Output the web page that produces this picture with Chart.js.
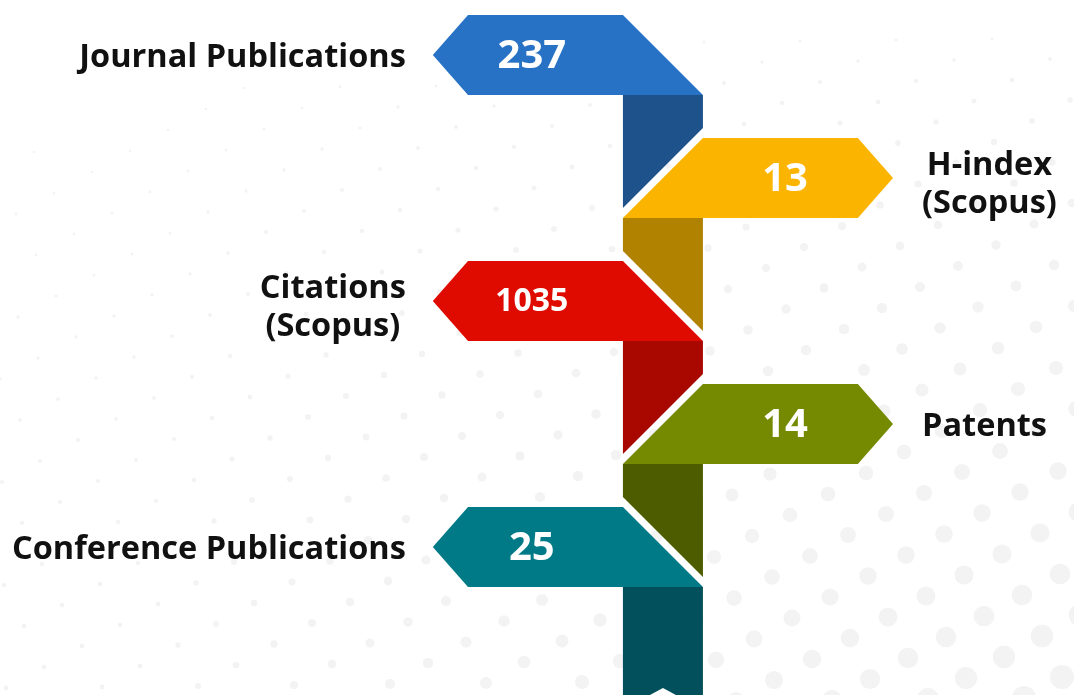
<!DOCTYPE html>
<html>
<head>
<meta charset="utf-8">
<title>Research Signpost</title>
<script src="https://cdn.jsdelivr.net/npm/chart.js@4.4.1/dist/chart.umd.min.js"></script>
<style>
    html, body { margin: 0; padding: 0; background: #ffffff; }
    #wrap { width: 1074px; height: 695px; position: relative; }
</style>
</head>
<body>
<div id="wrap"><canvas id="signChart"></canvas></div>
<script>
// Chart data
const categories = [
    ['Journal Publications'],
    ['H-index', '(Scopus)'],
    ['Citations', '(Scopus)'],
    ['Patents'],
    ['Conference Publications']
];
const values = [237, 13, 1035, 14, 25];
const directions = ['left', 'right', 'left', 'right', 'left'];

// Colours: sign boards and the darker pole piece under each one
const signColors = ['#2872c6', '#fbb400', '#e00b00', '#758a00', '#007a87'];
const poleColors = ['#1e528b', '#b08200', '#a80800', '#4e5c00', '#02505b'];

// Layout (x axis runs 0..100 across the page)
const POLE_LEFT = 58;
const POLE_RIGHT = 65.45;
const SIGN_LENGTH = 25.15;
const FONT = '"Open Sans", "DejaVu Sans", sans-serif';

// Each board is a floating bar hanging off one side of the pole
const boardRanges = directions.map(dir =>
    dir === 'left' ? [POLE_RIGHT - SIGN_LENGTH, POLE_RIGHT] : [POLE_LEFT, POLE_LEFT + SIGN_LENGTH]
);

function fillPoly(ctx, pts, color) {
    ctx.beginPath();
    ctx.moveTo(pts[0][0], pts[0][1]);
    for (let k = 1; k < pts.length; k++) ctx.lineTo(pts[k][0], pts[k][1]);
    ctx.closePath();
    ctx.fillStyle = color;
    ctx.fill();
}

// Draws the faint dotted backdrop, then the boards, pole and texts
const signpostPlugin = {
    id: 'signpost',
    beforeDraw(chart) {
        const ctx = chart.ctx;
        const W = chart.width, H = chart.height;
        ctx.save();
        ctx.fillStyle = '#ffffff';
        ctx.fillRect(0, 0, W, H);
        ctx.fillStyle = '#f3f3f3';
        for (let i = -25; i < 40; i++) {
            for (let j = -15; j < 45; j++) {
                const x = 12 + i * 58 - j * 38;
                const y = 8 + i * 20 + j * 21;
                if (x < -15 || x > W + 15 || y < -15 || y > H + 15) continue;
                const fx = Math.max(0, (x - 150) / (W - 150));
                const fy = Math.max(0, y / H);
                const r = 1 + 10 * fx * fy + 1.5 * fy;
                if (r < 1.3) continue;
                ctx.beginPath();
                ctx.arc(x, y, Math.min(r, 13), 0, Math.PI * 2);
                ctx.fill();
            }
        }
        ctx.restore();
    },
    afterDatasetsDraw(chart) {
        const ctx = chart.ctx;
        const xScale = chart.scales.x;
        const pL = xScale.getPixelForValue(POLE_LEFT);
        const pR = xScale.getPixelForValue(POLE_RIGHT);
        const gap = 10;
        const boxes = chart.getDatasetMeta(0).data.map(bar => {
            const p = bar.getProps(['x', 'y', 'base', 'height'], true);
            return {
                left: Math.min(p.x, p.base), right: Math.max(p.x, p.base),
                top: p.y - p.height / 2, bottom: p.y + p.height / 2,
                cy: p.y, h: p.height
            };
        });

        ctx.save();
        // pole pieces
        boxes.forEach((b, i) => {
            const next = boxes[i + 1];
            let pts;
            if (!next) {
                pts = [[pL, b.bottom], [pR, b.bottom], [pR, chart.height], [pL, chart.height]];
            } else if (directions[i] === 'left') {
                pts = [[pL, b.bottom], [pR, b.bottom], [pR, next.top - gap], [pL, next.bottom - gap]];
            } else {
                pts = [[pL, b.bottom], [pR, b.bottom], [pR, next.bottom - gap], [pL, next.top - gap]];
            }
            fillPoly(ctx, pts, poleColors[i]);
        });
        // small white peak at the foot of the pole
        const mid = (pL + pR) / 2;
        fillPoly(ctx, [[mid - 13, chart.height], [mid, chart.height - 7], [mid + 13, chart.height]], '#ffffff');

        // boards
        boxes.forEach((b, i) => {
            const tip = b.h * 0.44;
            let pts;
            if (directions[i] === 'left') {
                pts = [[b.left, b.cy], [b.left + tip, b.top], [pL, b.top], [pR, b.bottom], [b.left + tip, b.bottom]];
            } else {
                pts = [[pR, b.top], [b.right - tip, b.top], [b.right, b.cy], [b.right - tip, b.bottom], [pL, b.bottom]];
            }
            fillPoly(ctx, pts, signColors[i]);
        });

        // values on the boards
        ctx.fillStyle = '#ffffff';
        ctx.textAlign = 'center';
        ctx.textBaseline = 'alphabetic';
        boxes.forEach((b, i) => {
            const txt = String(values[i]);
            let size = 40;
            ctx.font = '700 ' + size + 'px ' + FONT;
            const w = ctx.measureText(txt).width;
            if (w > 74) {
                size = Math.floor(size * 74 / w);
                ctx.font = '700 ' + size + 'px ' + FONT;
            }
            const cap = size * 0.714;
            const cx = directions[i] === 'left' ? b.left + 99 : b.right - 108;
            ctx.fillText(txt, cx, b.cy + cap / 2 - 1);
        });

        // category names beside the boards
        ctx.fillStyle = '#111111';
        const labelSize = 32.5;
        const lineH = 38;
        ctx.font = '700 ' + labelSize + 'px ' + FONT;
        const cap = labelSize * 0.714;
        boxes.forEach((b, i) => {
            const lines = categories[i];
            const blockW = Math.max(...lines.map(t => ctx.measureText(t).width));
            const blockCx = directions[i] === 'left' ? b.left - 27 - blockW / 2 : b.right + 29 + blockW / 2;
            const shift = lines.length > 1 ? 4 : 0;
            lines.forEach((t, k) => {
                const y = b.cy + cap / 2 + shift + (k - (lines.length - 1) / 2) * lineH;
                ctx.fillText(t, blockCx, y);
            });
        });
        ctx.restore();
    }
};

const signChart = new Chart(document.getElementById('signChart'), {
    type: 'bar',
    data: {
        labels: categories,
        datasets: [{
            label: 'Research output',
            data: boardRanges,
            backgroundColor: 'rgba(0, 0, 0, 0)',
            borderWidth: 0,
            barPercentage: 0.65,
            categoryPercentage: 1,
            clip: false
        }]
    },
    options: {
        indexAxis: 'y',
        responsive: true,
        maintainAspectRatio: false,
        animation: false,
        layout: { padding: { top: 55, bottom: 148, left: 0, right: 0 } },
        plugins: {
            legend: { display: false },
            tooltip: { enabled: false }
        },
        scales: {
            x: { type: 'linear', min: 0, max: 100, display: false },
            y: { type: 'category', offset: false, display: false, grid: { display: false } }
        }
    },
    plugins: [signpostPlugin]
});
</script>
</body>
</html>
